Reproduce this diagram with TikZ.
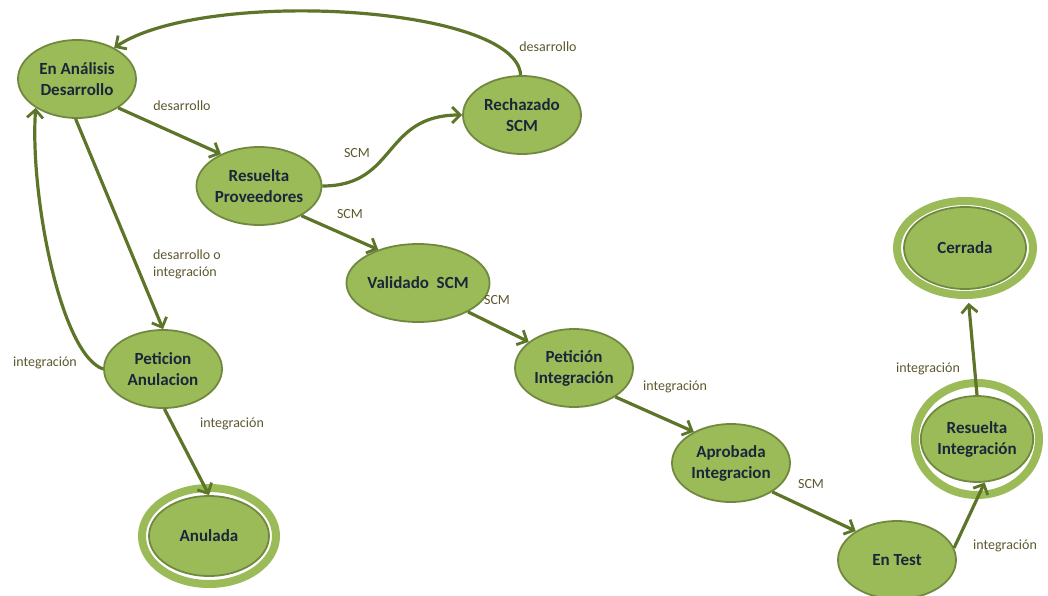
\documentclass[tikz,border=0pt]{standalone}
\usepackage{fontspec}
\setmainfont{Carlito}
\usetikzlibrary{shapes.geometric,arrows.meta}
\definecolor{stfill}{RGB}{155,187,89}
\definecolor{stborder}{RGB}{113,137,63}
\definecolor{edgecol}{RGB}{92,117,40}
\definecolor{stext}{RGB}{28,38,58}
\definecolor{lbltext}{RGB}{92,88,46}
\tikzset{
  state/.style={ellipse, fill=stfill, draw=stborder, line width=1.8pt,
    minimum width=118pt, minimum height=78pt, inner sep=0pt, align=center,
    text=stext, font=\fontsize{17}{21}\selectfont\bfseries},
  ring/.style={draw=stfill, line width=8pt},
  trans/.style={draw=edgecol, line width=3.2pt,
    -{Straight Barb[length=8pt,width=16pt,line width=2.8pt]}},
  lbl/.style={text=lbltext, font=\fontsize{14}{16}\selectfont, inner sep=0pt, align=left}
}
\begin{document}
\begin{tikzpicture}[x=1pt,y=-1pt]
\useasboundingbox (0,0) rectangle (1048,596);

% rings around the final states
\draw[ring] (209,536) ellipse [x radius=67, y radius=48];
\draw[ring] (977,439) ellipse [x radius=62, y radius=56];
\draw[ring] (965,248) ellipse [x radius=68, y radius=47];

% states
\node[state] (ana) at (77,79) {En Análisis\\Desarrollo};
\node[state] (res) at (259,186) {Resuelta\\Proveedores};
\node[state] (rech) at (522,115) {Rechazado\\SCM};
\node[state] (val) at (418,283) {Validado~ SCM};
\node[state] (pint) at (574,368) {Petición\\Integración};
\node[state] (apr) at (731,463) {Aprobada\\Integracion};
\node[state] (test) at (897,560) {En Test};
\node[state, minimum width=108pt, minimum height=86pt] (rint) at (977,439) {Resuelta\\Integración};
\node[state, minimum width=122pt, minimum height=82pt] (cerr) at (965,248) {Cerrada};
\node[state] (pan) at (163,369) {Peticion\\Anulacion};
\node[state, minimum width=120pt, minimum height=80pt] (anul) at (209,536) {Anulada};

% transitions
\draw[trans] (rech.92) .. controls +(-4,-70) and +(90,-60) .. (ana.40);
\draw[trans] (ana.-35) -- (res.140);
\draw[trans] (res.east) .. controls +(75,0) and +(-80,0) .. (rech.west);
\draw[trans] (res.-35) -- (val.140);
\draw[trans] (val.-30) -- (pint.150);
\draw[trans] (pint.-35) -- (apr.140);
\draw[trans] (apr.-35) -- (test.145);
\draw[trans] (test.12) -- (rint.-80);
\draw[trans] (rint.north) -- ([yshift=-13pt]cerr.-85);
\draw[trans] (ana.-92) -- (pan.north);
\draw[trans] (pan.west) .. controls +(-43,-15) and +(-6,85) .. (ana.-145);
\draw[trans] (pan.-88) -- (anul.north);

% transition labels
\node[lbl] (l1) at (548,47) {desarrollo};
\node[lbl] (l2) at (182,106) {desarrollo};
\node[lbl] (l3) at (357,153) {SCM};
\node[lbl] (l4) at (350,214) {SCM};
\node[lbl, font=\fontsize{14}{17}\selectfont] (l5) at (187,264) {desarrollo o\\integración};
\node[lbl] (l6) at (45,363) {integración};
\node[lbl] (l7) at (232,424) {integración};
\node[lbl] (l8) at (497,300) {SCM};
\node[lbl] (l9) at (675,387) {integración};
\node[lbl] (l10) at (811,484) {SCM};
\node[lbl] (l11) at (1005,546) {integración};
\node[lbl] (l12) at (928,369) {integración};
\end{tikzpicture}
\end{document}
